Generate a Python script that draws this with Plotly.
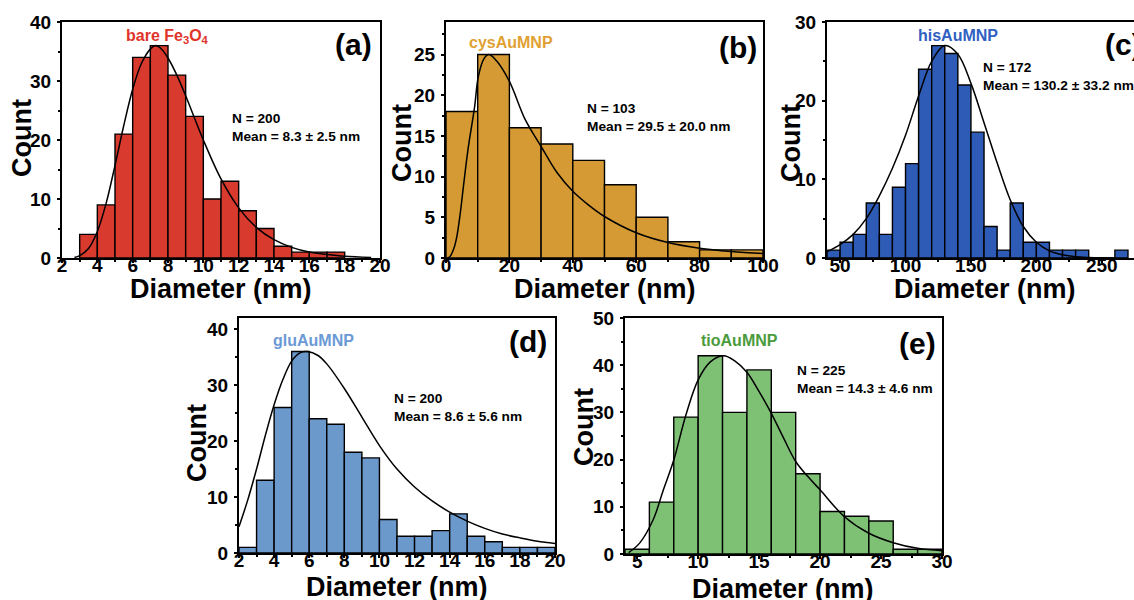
import plotly.graph_objects as go

# ---------------- data ----------------
# (a) bare Fe3O4
a_bin_start = [3, 4, 5, 6, 7, 8, 9, 10, 11, 12, 13, 14, 15, 16, 17]
a_count = [4, 9, 21, 34, 36, 31, 24, 10, 13, 8, 5, 2, 1, 1, 1]
a_fit_x = [2.7, 3, 3.5, 4, 4.5, 5, 5.5, 6, 6.5, 7, 7.3, 7.6, 8, 8.5, 9, 10, 11, 12, 13, 14, 15, 16, 17, 18, 19.5]
a_fit_y = [0.1, 0.4, 1.6, 4.5, 9.3, 15.7, 22.5, 28.6, 33.0, 35.4, 36.0, 35.5, 33.9, 31.0, 27.5, 20.0, 13.4, 8.5, 5.2, 3.1, 1.8, 1.0, 0.6, 0.3, 0.1]

# (b) cysAuMNP
b_bin_start = [0, 10, 20, 30, 40, 50, 60, 70, 80, 90]
b_count = [18, 25, 16, 14, 12, 9, 5, 2, 1, 1]
b_fit_x = [0.5, 1.3, 2.5, 3.4, 4.5, 5.5, 7, 9, 10.2, 12, 13.5, 16, 20, 25, 30, 35, 40, 45, 50, 60, 70, 80, 90, 100]
b_fit_y = [0.0, 0.2, 1.2, 2.6, 5.5, 8.8, 13.5, 18.5, 22.3, 24.5, 25.0, 24.2, 21.7, 17.0, 13.7, 10.5, 8.2, 6.5, 5.1, 3.1, 1.9, 1.2, 0.8, 0.55]

# (c) hisAuMNP
c_bin_start = [40, 50, 60, 70, 80, 90, 100, 110, 120, 130, 140, 150, 160, 170, 180, 190, 200, 210, 220, 230, 240, 250, 260]
c_count = [1, 2, 3, 7, 3, 9, 12, 24, 27, 26, 22, 16, 4, 1, 7, 2, 2, 1, 1, 1, 0, 0, 1]
c_fit_x = [40, 50, 60, 70, 80, 90, 100, 110, 120, 130, 140, 150, 160, 170, 180, 190, 200, 210, 220, 230, 240, 250, 260]
c_fit_y = [0.8, 1.7, 3.0, 5.0, 7.9, 11.4, 15.6, 20.6, 25.0, 27.0, 25.9, 22.2, 17.2, 12.1, 7.4, 4.0, 2.0, 0.9, 0.4, 0.15, 0.06, 0.02, 0.01]

# (d) gluAuMNP
d_bin_start = [2, 3, 4, 5, 6, 7, 8, 9, 10, 11, 12, 13, 14, 15, 16, 17, 18, 19]
d_count = [1, 13, 26, 36, 24, 23, 18, 17, 6, 3, 3, 4, 7, 3, 2, 1, 1, 1]
d_fit_x = [2, 2.5, 3, 3.5, 4, 4.5, 5, 5.5, 5.9, 6.5, 7, 8, 9, 10, 11, 12, 13, 14, 15, 16, 17, 18, 19, 20]
d_fit_y = [4.7, 9.5, 15.0, 21.0, 26.5, 31.0, 34.3, 35.8, 36.0, 35.3, 33.8, 29.4, 24.3, 19.2, 15.0, 11.8, 9.3, 7.3, 5.7, 4.4, 3.4, 2.7, 2.1, 1.7]

# (e) tioAuMNP
e_bin_start = [4, 6, 8, 10, 12, 14, 16, 18, 20, 22, 24, 26, 28]
e_count = [1, 11, 29, 42, 30, 39, 30, 17, 9, 8, 7, 1, 1]
e_fit_x = [4.3, 5.2, 6.3, 7.15, 8, 9, 10, 11, 12.1, 13, 14, 15, 16, 17, 18, 19, 20, 22, 24, 26, 28, 30]
e_fit_y = [0.3, 2.3, 7.2, 13.6, 19.9, 29.5, 36.9, 40.7, 42.0, 40.9, 38.5, 34.4, 29.8, 24.6, 19.6, 16.4, 13.6, 7.9, 4.4, 2.4, 1.2, 0.7]

sample_names = ["bare Fe<sub>3</sub>O<sub>4</sub>", "cysAuMNP", "hisAuMNP", "gluAuMNP", "tioAuMNP"]
panel_letters = ["(a)", "(b)", "(c)", "(d)", "(e)"]
stats_text = [
    "N = 200<br>Mean = 8.3 ± 2.5 nm",
    "N = 103<br>Mean = 29.5 ± 20.0 nm",
    "N = 172<br>Mean = 130.2 ± 33.2 nm",
    "N = 200<br>Mean = 8.6 ± 5.6 nm",
    "N = 225<br>Mean = 14.3 ± 4.6 nm",
]

# ---------------- layout / styles ----------------
W, H = 1134, 600
FONT = "Arial, Liberation Sans, Helvetica, sans-serif"


def px(x):
    return x / W


def py(y):
    return 1 - y / H


panels = [
    dict(bins=a_bin_start, cnt=a_count, fx=a_fit_x, fy=a_fit_y,
         bar="#d83a2e", txt="#e0342a",
         box=(62, 380, 22, 258), xr=[2, 20], yr=[0, 40], xd=2, xm=1, yd=10, ym=5,
         name_pos=(167, 36), letter_pos=(353, 45, "center"), stats_pos=(230, 127),
         count_pos=(22, 138), diam_pos=(221, 289), ymirror=True),
    dict(bins=b_bin_start, cnt=b_count, fx=b_fit_x, fy=b_fit_y,
         bar="#d59a34", txt="#e0a133",
         box=(446, 763, 22, 258), xr=[0, 100], yr=[0, 29], xd=20, xm=10, yd=5, ym=2.5,
         name_pos=(511, 42), letter_pos=(738, 47, "center"), stats_pos=(585, 117),
         count_pos=(402, 143), diam_pos=(605, 289), ymirror=True),
    dict(bins=c_bin_start, cnt=c_count, fx=c_fit_x, fy=c_fit_y,
         bar="#2d5bb5", txt="#2f60c2",
         box=(827, 1134, 22, 258), xr=[40, 274.6], yr=[0, 30], xd=50, xm=25, yd=10, ym=5,
         name_pos=(958, 35), letter_pos=(1103, 44, "left"), stats_pos=(981, 77),
         count_pos=(791, 143), diam_pos=(985, 289), ymirror=False),
    dict(bins=d_bin_start, cnt=d_count, fx=d_fit_x, fy=d_fit_y,
         bar="#6c99cc", txt="#6b9ad5",
         box=(239, 555, 318, 553), xr=[2, 20], yr=[0, 42], xd=2, xm=1, yd=10, ym=5,
         name_pos=(313, 340), letter_pos=(528, 342, "center"), stats_pos=(392, 407),
         count_pos=(197, 443), diam_pos=(397, 587), ymirror=True),
    dict(bins=e_bin_start, cnt=e_count, fx=e_fit_x, fy=e_fit_y,
         bar="#7ec174", txt="#4b9b3d",
         box=(625, 942, 318, 554), xr=[4, 30], yr=[0, 50], xd=5, xm=2.5, yd=10, ym=5,
         name_pos=(739, 340), letter_pos=(917, 343, "center"), stats_pos=(795, 379),
         count_pos=(584, 427), diam_pos=(783, 589), ymirror=True),
]

fig = go.Figure()
layout = dict(
    width=W, height=H,
    margin=dict(l=0, r=0, t=0, b=0, autoexpand=False),
    paper_bgcolor="white", plot_bgcolor="white",
    showlegend=False,
    font=dict(family=FONT, color="black"),
)
annotations = []

for i, p in enumerate(panels):
    k = "" if i == 0 else str(i + 1)
    xa, ya = "x" + k, "y" + k
    bw = p["bins"][1] - p["bins"][0]
    fig.add_trace(go.Bar(
        x=p["bins"], y=p["cnt"], width=[bw] * len(p["bins"]), offset=0,
        marker=dict(color=p["bar"], line=dict(color="black", width=1.4)),
        xaxis=xa, yaxis=ya, hoverinfo="x+y",
    ))
    fig.add_trace(go.Scatter(
        x=p["fx"], y=p["fy"], mode="lines",
        line=dict(color="black", width=1.5, shape="spline", smoothing=1.0),
        xaxis=xa, yaxis=ya, hoverinfo="skip",
    ))
    x0, x1, y0, y1 = p["box"]
    tickfont = dict(family=FONT, size=19, color="black", weight="bold")
    layout["xaxis" + k] = dict(
        domain=[px(x0), min(px(x1), 1.0)], range=p["xr"], anchor=ya,
        dtick=p["xd"], ticks="outside", ticklen=3, tickwidth=2, tickcolor="black",
        minor=dict(dtick=p["xm"], ticks="outside", ticklen=2, tickwidth=1.5, tickcolor="black"),
        ticklabelstandoff=-14,
        showline=True, linecolor="black", linewidth=2, mirror=True, automargin=False,
        showgrid=False, zeroline=False, tickfont=tickfont, fixedrange=True,
    )
    layout["yaxis" + k] = dict(
        domain=[py(y1), py(y0)], range=p["yr"], anchor=xa,
        dtick=p["yd"], ticks="outside", ticklen=3, tickwidth=2, tickcolor="black",
        minor=dict(dtick=p["ym"], ticks="outside", ticklen=2, tickwidth=1.5, tickcolor="black"),
        ticklabelstandoff=2,
        showline=True, linecolor="black", linewidth=2, mirror=p["ymirror"], automargin=False,
        showgrid=False, zeroline=False, tickfont=tickfont, fixedrange=True,
    )
    # sample name
    annotations.append(dict(
        xref="paper", yref="paper", x=px(p["name_pos"][0]), y=py(p["name_pos"][1]),
        xanchor="center", yanchor="middle", showarrow=False, text=sample_names[i],
        font=dict(family=FONT, size=16, color=p["txt"], weight="bold"),
    ))
    # panel letter
    lx, ly, lanchor = p["letter_pos"]
    annotations.append(dict(
        xref="paper", yref="paper", x=px(lx), y=py(ly),
        xanchor=lanchor, yanchor="middle", showarrow=False, text=panel_letters[i],
        font=dict(family=FONT, size=30, color="black", weight="bold"),
    ))
    # statistics
    annotations.append(dict(
        xref="paper", yref="paper", x=px(p["stats_pos"][0]), y=py(p["stats_pos"][1]),
        xanchor="left", yanchor="middle", align="left", showarrow=False, text=stats_text[i],
        font=dict(family=FONT, size=13.7, color="black", weight="bold"),
    ))
    # axis titles
    annotations.append(dict(
        xref="paper", yref="paper", x=px(p["count_pos"][0]), y=py(p["count_pos"][1]),
        xanchor="center", yanchor="middle", textangle=-90, showarrow=False, text="Count",
        font=dict(family=FONT, size=27, color="black", weight="bold"),
    ))
    annotations.append(dict(
        xref="paper", yref="paper", x=px(p["diam_pos"][0]), y=py(p["diam_pos"][1]),
        xanchor="center", yanchor="middle", showarrow=False, text="Diameter (nm)",
        font=dict(family=FONT, size=27, color="black", weight="bold"),
    ))

layout["annotations"] = annotations
fig.update_layout(**layout)
fig.write_html(
    "out.html",
    config={"displayModeBar": False},
    post_script="document.body.style.margin='0px';document.body.style.overflow='hidden';",
)
